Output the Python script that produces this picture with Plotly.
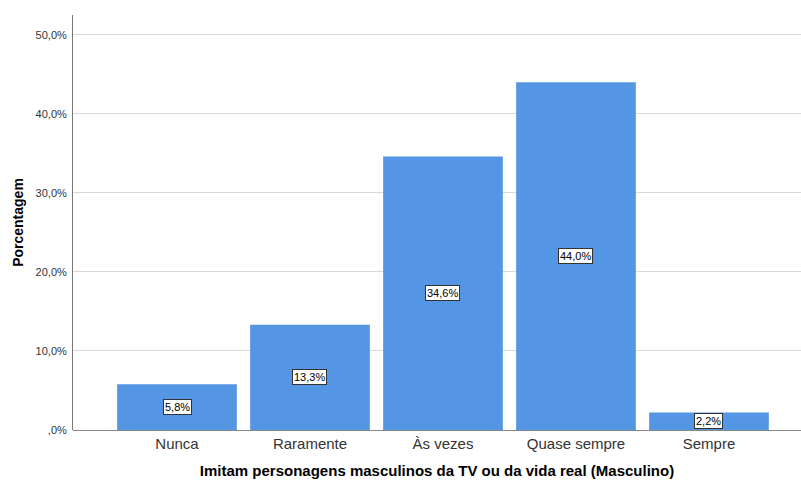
import plotly.graph_objects as go

categories = ["Nunca", "Raramente", "Às vezes", "Quase sempre", "Sempre"]
percentages = [5.8, 13.3, 34.6, 44.0, 2.2]
y_tick_values = [0, 10, 20, 30, 40, 50]
y_tick_labels = [",0%", "10,0%", "20,0%", "30,0%", "40,0%", "50,0%"]

FONT = "Liberation Sans, Arial, sans-serif"
BAR_COLOR = "#5596e4"

x_pos = list(range(len(categories)))

fig = go.Figure()
fig.add_trace(go.Bar(
    x=x_pos,
    y=percentages,
    width=0.9,
    marker=dict(color=BAR_COLOR, line=dict(width=0)),
    hoverinfo="skip",
))

# value labels in boxed tags at mid-height of each bar
for xi, v in zip(x_pos, percentages):
    fig.add_annotation(
        x=xi, y=v / 2,
        text=f"{v:.1f}%".replace(".", ","),
        showarrow=False,
        font=dict(family=FONT, size=11, color="#000000"),
        bgcolor="#ffffff",
        bordercolor="#333333",
        borderwidth=1,
        borderpad=1,
    )

fig.update_layout(
    width=801, height=484,
    margin=dict(l=73, r=0, t=15, b=54),
    paper_bgcolor="#ffffff",
    plot_bgcolor="#ffffff",
    showlegend=False,
    font=dict(family=FONT, color="#333333"),
    xaxis=dict(
        range=[-0.782, 4.692],
        tickvals=x_pos,
        ticktext=categories,
        tickfont=dict(family=FONT, size=15, color="#333333"),
        ticklabelstandoff=3,
        showgrid=False,
        zeroline=False,
        showline=False,
        ticks="",
        title=dict(
            text="<b>Imitam personagens masculinos da TV ou da vida real (Masculino)</b>",
            font=dict(family=FONT, size=15, color="#000000"),
            standoff=14,
        ),
    ),
    yaxis=dict(
        range=[0, 52.5],
        tickvals=y_tick_values,
        ticktext=y_tick_labels,
        tickfont=dict(family=FONT, size=11, color="#333333"),
        showgrid=True,
        gridcolor="#d9d9d9",
        gridwidth=1,
        zeroline=True,
        zerolinecolor="#888888",
        zerolinewidth=1,
        showline=True,
        linecolor="#777777",
        linewidth=1,
        ticks="",
        ticklen=0,
        ticklabelstandoff=3,
        title=dict(
            text="<b>Porcentagem</b>",
            font=dict(family=FONT, size=14, color="#000000"),
            standoff=8,
        ),
    ),
)

fig.write_html("out.html")
